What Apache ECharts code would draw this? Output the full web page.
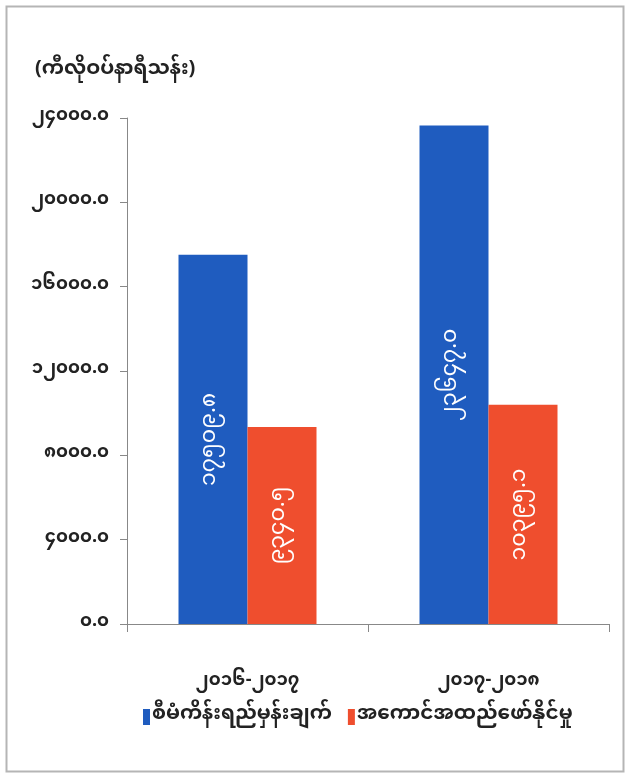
<!DOCTYPE html>
<html>
<head>
<meta charset="utf-8">
<script src="https://cdn.jsdelivr.net/npm/echarts@6/dist/echarts.min.js"></script>
<style>
html,body{margin:0;padding:0;background:#fff;}
#chart{width:627px;height:775px;}
</style>
</head>
<body>
<div id="chart"></div>
<script>
// ---- data ----
const categories = ['၂၀၁၆-၂၀၁၇', '၂၀၁၇-၂၀၁၈'];
const seriesNames = ['စီမံကိန်းရည်မှန်းချက်', 'အကောင်အထည်ဖော်နိုင်မှု'];
const plannedValues = [17509.8, 23647.0];
const achievedValues = [9340.5, 10395.1];
const unitLabel = '(ကီလိုဝပ်နာရီသန်း)';
const yTicks = [0, 4000, 8000, 12000, 16000, 20000, 24000];

const MY_DIGITS = ['၀','၁','၂','၃','၄','၅','၆','၇','၈','၉'];
function toMy(str){ return String(str).replace(/[0-9]/g, d => MY_DIGITS[+d]); }
function fmt1(v){ return toMy(Number(v).toFixed(1)); }

const FONT = '"Noto Sans Myanmar","Myanmar Text","Padauk","Noto Sans",sans-serif';
const BLUE = '#1f5cbf';
const RED = '#ef4e2e';

const chart = echarts.init(document.getElementById('chart'));
chart.setOption({
  backgroundColor: '#ffffff',
  animation: false,
  textStyle: { fontFamily: FONT },
  graphic: [
    { type: 'rect', left: 4, top: 4, shape: { width: 617, height: 765 },
      style: { fill: 'none', stroke: '#b5b5b5', lineWidth: 2 } },
    { type: 'text', left: 35, top: 62,
      style: { text: unitLabel, font: 'bold 20px ' + FONT, fill: '#222' } }
  ],
  grid: { left: 127, right: 18, top: 118, bottom: 151, containLabel: false },
  legend: {
    data: seriesNames,
    top: 702,
    left: 138,
    itemGap: 16,
    itemWidth: 7,
    itemHeight: 16,
    icon: 'rect',
    textStyle: { fontSize: 20, fontWeight: 'bold', color: '#222', fontFamily: FONT, padding: [0,0,0,-3] }
  },
  xAxis: {
    type: 'category',
    data: categories,
    axisLine: { lineStyle: { color: '#888', width: 1 } },
    axisTick: { show: true, length: 8, lineStyle: { color: '#888' } },
    axisLabel: { fontSize: 18, fontWeight: 'bold', color: '#222', margin: 50, fontFamily: FONT }
  },
  yAxis: {
    type: 'value',
    min: 0, max: 24000, interval: 4000,
    splitLine: { show: false },
    axisLine: { show: true, lineStyle: { color: '#888', width: 1 } },
    axisTick: { show: true, length: 7, lineStyle: { color: '#888' } },
    axisLabel: { fontSize: 18, fontWeight: 'bold', color: '#222', margin: 18, fontFamily: FONT,
      formatter: v => fmt1(v) }
  },
  series: [
    { name: seriesNames[0], type: 'bar', data: plannedValues, barWidth: 69, barGap: '0%',
      itemStyle: { color: BLUE },
      label: { show: true, position: 'inside', rotate: 90, color: '#fff', fontSize: 22, fontFamily: FONT,
        formatter: p => fmt1(p.value) } },
    { name: seriesNames[1], type: 'bar', data: achievedValues, barWidth: 69,
      itemStyle: { color: RED },
      label: { show: true, position: 'inside', rotate: 90, color: '#fff', fontSize: 22, fontFamily: FONT,
        formatter: p => fmt1(p.value) } }
  ]
});
</script>
</body>
</html>
